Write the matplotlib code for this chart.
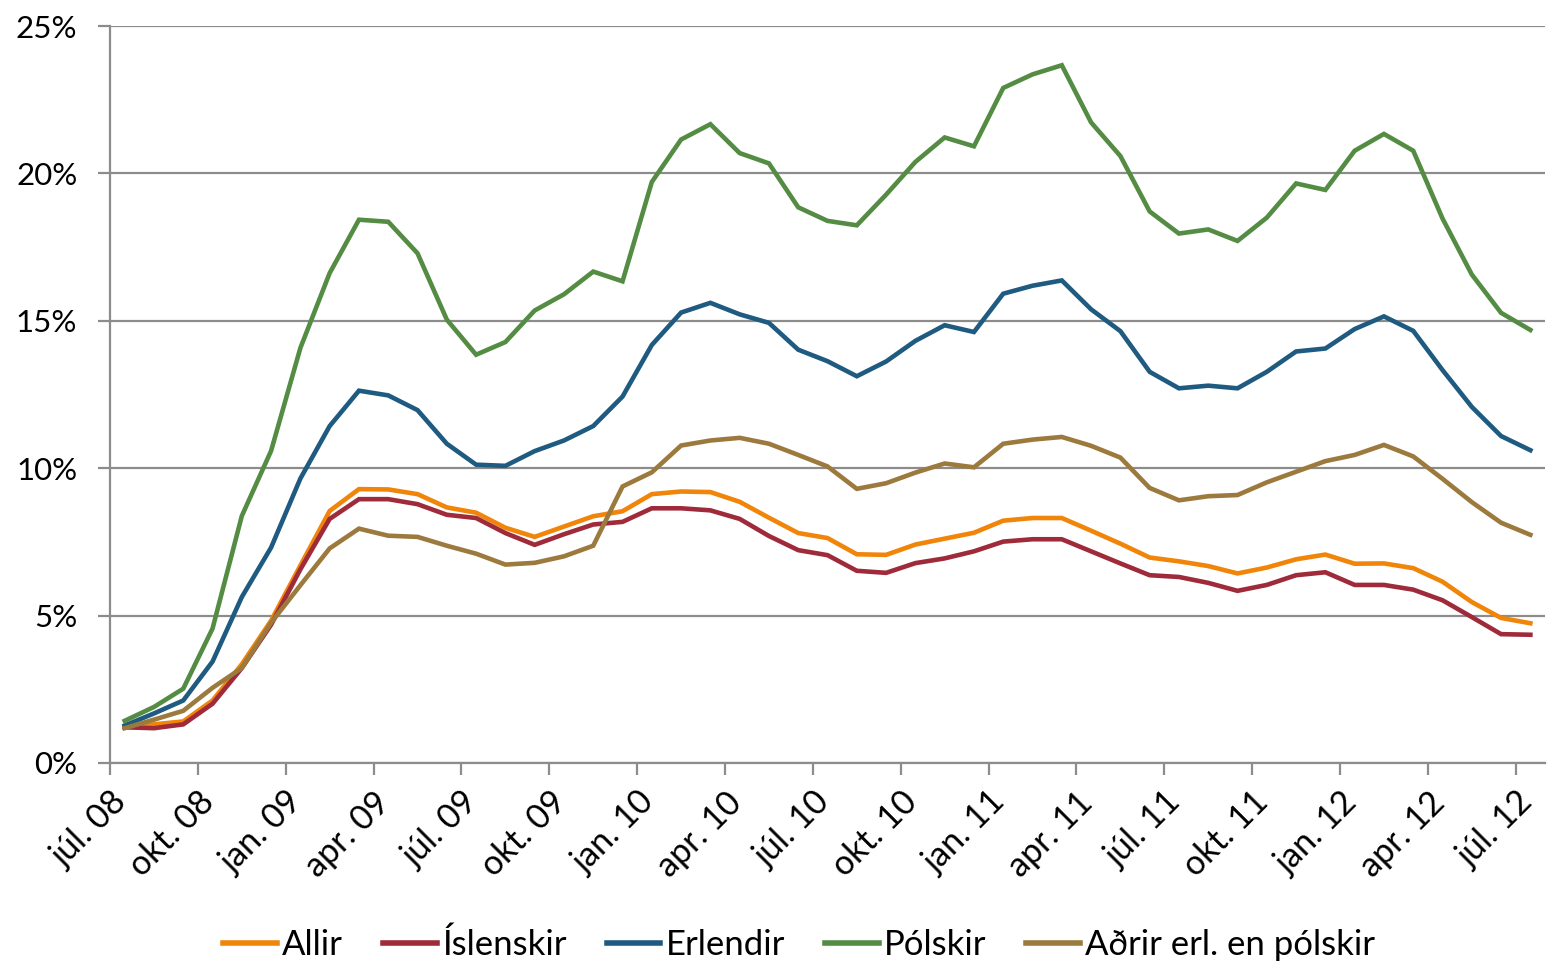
import numpy as np
import matplotlib
matplotlib.use("Agg")
import matplotlib.pyplot as plt
from matplotlib.transforms import ScaledTranslation

# monthly, júl. 08 - júl. 12 (49 months), percent
allir = [1.21, 1.31, 1.41, 2.12, 3.35, 4.83, 6.70, 8.55, 9.29, 9.28, 9.12, 8.67, 8.49,
         7.98, 7.67, 8.02, 8.37, 8.54, 9.12, 9.21, 9.19, 8.86, 8.32, 7.80, 7.63, 7.08,
         7.06, 7.41, 7.61, 7.81, 8.22, 8.31, 8.31, 7.88, 7.44, 6.97, 6.84, 6.68, 6.43,
         6.63, 6.91, 7.07, 6.76, 6.77, 6.61, 6.15, 5.46, 4.92, 4.74]
islenskir = [1.21, 1.18, 1.31, 2.01, 3.22, 4.69, 6.57, 8.28, 8.95, 8.95, 8.78, 8.42, 8.31,
             7.80, 7.40, 7.76, 8.09, 8.18, 8.64, 8.64, 8.57, 8.28, 7.70, 7.22, 7.05, 6.52,
             6.45, 6.78, 6.94, 7.18, 7.51, 7.59, 7.59, 7.18, 6.77, 6.37, 6.31, 6.11, 5.84,
             6.04, 6.37, 6.47, 6.04, 6.04, 5.88, 5.52, 4.95, 4.37, 4.35]
erlendir = [1.27, 1.68, 2.12, 3.44, 5.63, 7.31, 9.65, 11.43, 12.63, 12.47, 11.97, 10.83, 10.12,
            10.08, 10.58, 10.94, 11.43, 12.43, 14.18, 15.28, 15.61, 15.22, 14.93, 14.02, 13.63, 13.12,
            13.62, 14.32, 14.85, 14.62, 15.92, 16.19, 16.37, 15.39, 14.65, 13.27, 12.71, 12.80, 12.71,
            13.27, 13.96, 14.06, 14.72, 15.15, 14.66, 13.33, 12.08, 11.09, 10.61]
polskir = [1.43, 1.90, 2.52, 4.56, 8.38, 10.59, 14.08, 16.62, 18.43, 18.36, 17.29, 15.04, 13.85,
           14.28, 15.35, 15.90, 16.67, 16.34, 19.71, 21.15, 21.67, 20.69, 20.34, 18.85, 18.39, 18.24,
           19.28, 20.39, 21.22, 20.92, 22.90, 23.36, 23.67, 21.73, 20.59, 18.71, 17.96, 18.10, 17.71,
           18.50, 19.66, 19.44, 20.77, 21.34, 20.77, 18.47, 16.57, 15.27, 14.69]
adrir = [1.18, 1.47, 1.77, 2.55, 3.22, 4.76, 6.03, 7.28, 7.95, 7.71, 7.67, 7.37, 7.10,
         6.73, 6.79, 7.01, 7.37, 9.38, 9.86, 10.77, 10.94, 11.03, 10.83, 10.45, 10.06, 9.30,
         9.49, 9.85, 10.16, 10.03, 10.83, 10.97, 11.06, 10.76, 10.36, 9.33, 8.91, 9.05, 9.09,
         9.52, 9.88, 10.24, 10.45, 10.79, 10.40, 9.64, 8.85, 8.15, 7.74]

tick_labels = ['júl. 08', 'okt. 08', 'jan. 09', 'apr. 09', 'júl. 09', 'okt. 09', 'jan. 10',
               'apr. 10', 'júl. 10', 'okt. 10', 'jan. 11', 'apr. 11', 'júl. 11', 'okt. 11',
               'jan. 12', 'apr. 12', 'júl. 12']

series = [
    ('Allir', allir, '#F0850A'),
    ('Íslenskir', islenskir, '#9E2A3A'),
    ('Erlendir', erlendir, '#1F5A80'),
    ('Pólskir', polskir, '#548C44'),
    ('Aðrir erl. en pólskir', adrir, '#9C7A3E'),
]

plt.rcParams['font.family'] = ['Lato', 'DejaVu Sans']

fig = plt.figure(figsize=(15.52, 9.68), dpi=100)
ax = fig.add_axes([0.0709, 0.2118, 0.9246, 0.7613])

n = len(allir)
x = np.arange(n) + 0.5
for name, vals, col in series:
    ax.plot(x, vals, color=col, lw=3.3, label=name, solid_joinstyle='miter')

ax.set_xlim(0, n)
ax.set_ylim(0, 25)
ax.set_yticks(np.arange(0, 26, 5))
ax.set_yticklabels([f'{v}%' for v in range(0, 26, 5)], fontsize=22.5)
ax.set_xticks(np.arange(0, n, 3))
ax.set_xticklabels(tick_labels, fontsize=24.5, rotation=45, ha='right', va='top',
                   rotation_mode='anchor')
# shift rotated labels a bit right, like excel does
shift = ScaledTranslation(21 / 100, 0, fig.dpi_scale_trans)
for lab in ax.get_xticklabels():
    lab.set_transform(lab.get_transform() + shift)

ax.grid(axis='y', color='#8c8c8c', lw=1.6)
ax.set_axisbelow(True)
for s in ['top', 'right']:
    ax.spines[s].set_visible(False)
for s in ['left', 'bottom']:
    ax.spines[s].set_color('#8c8c8c')
    ax.spines[s].set_linewidth(1.6)
ax.tick_params(axis='x', length=8.6, width=1.6, color='#8c8c8c', pad=8)
ax.tick_params(axis='y', length=8.6, width=1.6, color='#8c8c8c', pad=15)

leg = fig.legend(loc='center', bbox_to_anchor=(0.515, 0.024), ncol=5, frameon=False,
                 fontsize=25, handlelength=1.55, handletextpad=0.15, columnspacing=1.15)
for h in leg.get_lines():
    h.set_linewidth(4)

fig.savefig('out.png', dpi=100)
